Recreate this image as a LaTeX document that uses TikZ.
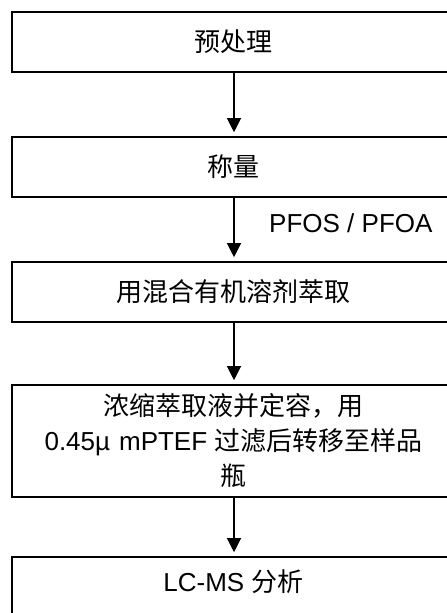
\documentclass[tikz,border=0pt]{standalone}
\usepackage{fontspec}
\setmainfont{Liberation Sans}
\newfontfamily\cjk{Noto Sans CJK SC}
\usetikzlibrary{arrows.meta}
\tikzset{
  stepbox/.style={draw, line width=1.6pt, rectangle, minimum width=443pt, inner sep=0pt, align=center, font=\fontsize{26}{35}\selectfont},
  flow/.style={line width=1.2pt, -{Triangle[width=14pt,length=14pt]}, shorten >=4pt},
}
\begin{document}
\begin{tikzpicture}[x=1pt,y=-1pt]
\useasboundingbox (0,0) rectangle (447,613);
\clip (0,0) rectangle (447,613);
\node[stepbox, minimum height=60pt] (b1) at (233.5,42) {\cjk 预处理};
\node[stepbox, minimum height=60pt] (b2) at (233.5,167) {\cjk 称量};
\node[stepbox, minimum height=60pt] (b3) at (233.5,292) {\cjk 用混合有机溶剂萃取};
\node[stepbox, minimum height=112pt] (b4) at (233.5,441) {{\cjk 浓缩萃取液并定容，用}\\0.45µ\hspace{9pt}mPTEF {\cjk 过滤后转移至样品}\\{\cjk 瓶}};
\node[stepbox, minimum height=62pt, text depth=14pt] (b5) at (233.5,588) {LC-MS {\cjk 分析}};
\node[anchor=west, inner sep=0pt, font=\fontsize{26}{30}\selectfont] (lab) at (269,223) {PFOS / PFOA};
\draw[flow] (b1.south -| 234,0) -- (b2.north -| 234,0);
\draw[flow] (b2.south -| 234,0) -- (b3.north -| 234,0);
\draw[flow] (b3.south -| 234,0) -- (b4.north -| 234,0);
\draw[flow] (b4.south -| 234,0) -- (b5.north -| 234,0);
\end{tikzpicture}
\end{document}
